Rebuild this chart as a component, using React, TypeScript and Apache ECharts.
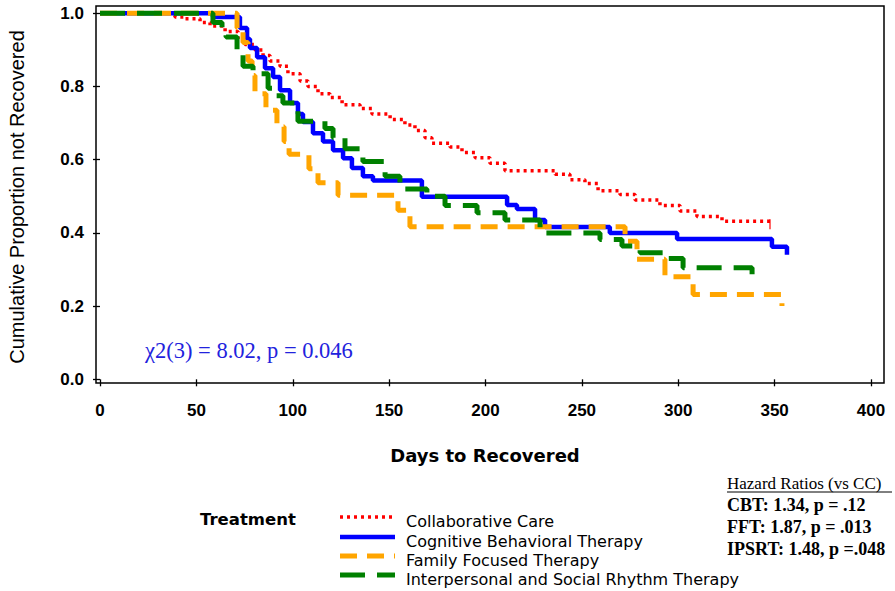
import React, { useEffect, useRef } from "react";
import * as echarts from "echarts";

// Kaplan-Meier step curves: days of each drop and the proportion after it.
const ccDays = [0, 38.9, 44.1, 51.9, 57.1, 64.9, 71.6, 75.2, 80.4, 84.6, 88.2, 93.4, 97.5, 103.8, 107.9, 113.1, 119.3, 125.6, 134.9, 141.1, 150.5, 158.2, 163.4, 168.6, 172.2, 181.6, 187.8, 194.6, 202.3, 210.1, 236.1, 243.8, 251.6, 258.4, 269.8, 277.6, 290.5, 300.9, 309.7, 322.7, 347.6];
const ccSurv = [1.0, 0.99, 0.985, 0.975, 0.965, 0.95, 0.93, 0.915, 0.9, 0.885, 0.87, 0.855, 0.835, 0.815, 0.8, 0.78, 0.77, 0.75, 0.74, 0.725, 0.71, 0.695, 0.68, 0.66, 0.645, 0.635, 0.62, 0.605, 0.59, 0.57, 0.56, 0.545, 0.535, 0.515, 0.505, 0.49, 0.475, 0.46, 0.445, 0.432, 0.432];

const cbtDays = [0, 58.6, 72.6, 76.3, 77.8, 81.5, 85.6, 89.8, 93.4, 98.6, 102.7, 105.3, 110.5, 115.7, 120.9, 126.1, 130.7, 136.4, 141.6, 167.0, 211.2, 216.3, 225.7, 230.9, 264.5, 299.4, 348.6, 356.4];
const cbtSurv = [1.0, 0.99, 0.96, 0.93, 0.905, 0.88, 0.85, 0.826, 0.79, 0.755, 0.725, 0.703, 0.672, 0.65, 0.626, 0.604, 0.577, 0.555, 0.543, 0.499, 0.476, 0.465, 0.435, 0.416, 0.4, 0.383, 0.362, 0.34];

const fftDays = [0, 71.1, 74.2, 76.8, 78.9, 80.4, 86.1, 91.8, 95.5, 98.1, 108.4, 113.1, 123.5, 154.6, 160.8, 272.4, 278.6, 293.1, 307.7, 353.8];
const fftSurv = [1.0, 0.96, 0.92, 0.87, 0.83, 0.78, 0.735, 0.69, 0.65, 0.615, 0.575, 0.537, 0.503, 0.462, 0.417, 0.377, 0.328, 0.28, 0.232, 0.2];

const ipsrtDays = [0, 58.6, 63.3, 65.4, 71.1, 74.2, 79.4, 87.2, 91.3, 94.9, 102.7, 116.7, 120.9, 127.1, 136.4, 147.9, 155.6, 169.6, 179.0, 195.6, 210.1, 228.3, 259.4, 270.8, 280.2, 294.2, 302.5, 338.3];
const ipsrtSurv = [1.0, 0.975, 0.95, 0.935, 0.89, 0.855, 0.835, 0.795, 0.775, 0.755, 0.705, 0.685, 0.66, 0.63, 0.595, 0.555, 0.52, 0.5, 0.475, 0.455, 0.435, 0.4, 0.382, 0.364, 0.346, 0.33, 0.305, 0.285];

// Last censored subject in the Collaborative Care arm.
const ccCensored = [[347.6, 0.432]];

const treatments = [
  "Collaborative Care",
  "Cognitive Behavioral Therapy",
  "Family Focused Therapy",
  "Interpersonal and Social Rhythm Therapy",
];

const xTicks = [0, 50, 100, 150, 200, 250, 300, 350, 400];
const yTicks = [0, 0.2, 0.4, 0.6, 0.8, 1.0];

const hazardLines = ["CBT: 1.34, p = .12", "FFT: 1.87, p = .013", "IPSRT: 1.48, p =.048"];
const chiText = "χ2(3) = 8.02, p = 0.046";

const toPoints = (days: number[], surv: number[]) => days.map((d, i) => [d, surv[i]]);

// Shared stroke settings for each treatment arm (curve and key sample).
const armStyles = [
  { color: "#ff0000", width: 3.5, dash: [3, 4] as number[] | null },
  { color: "#0000ff", width: 4.5, dash: null },
  { color: "#ffa500", width: 5, dash: [17, 10] },
  { color: "#008000", width: 5, dash: [25, 12] },
];

export default function App() {
  const ref = useRef<HTMLDivElement>(null);

  useEffect(() => {
    if (!ref.current) return;
    const chart = echarts.init(ref.current, null, { renderer: "svg" });

    const sans = "Liberation Sans, Arial, sans-serif";
    const wide = "DejaVu Sans, sans-serif";
    const serif = "Liberation Serif, Times New Roman, serif";

    const curve = (i: number, data: number[][]) => {
      const s = armStyles[i];
      return {
        name: treatments[i],
        type: "line",
        step: "end",
        data,
        showSymbol: false,
        symbol: "none",
        clip: false,
        color: s.color,
        lineStyle: { color: s.color, width: s.width, type: s.dash ? s.dash : "solid" },
        emphasis: { disabled: true },
      };
    };

    // Treatment key drawn below the plot.
    const keyX = 340;
    const keyRows = [521, 541, 560, 579];
    const keyItems: any[] = [];
    treatments.forEach((name, i) => {
      const s = armStyles[i];
      keyItems.push({
        type: "line",
        shape: { x1: keyX, y1: keyRows[i] - 4, x2: keyX + 55, y2: keyRows[i] - 4 },
        style: { stroke: s.color, lineWidth: s.width, lineDash: s.dash || undefined },
      });
      keyItems.push({
        type: "text",
        x: 406,
        y: keyRows[i],
        style: {
          text: name,
          fontFamily: wide,
          fontSize: 16,
          fill: "#000",
          align: "left",
          verticalAlign: "middle",
        },
      });
    });

    chart.setOption({
      animation: false,
      backgroundColor: "#ffffff",
      grid: { left: 100, right: 24, top: 13.3, bottom: 211.7, containLabel: false },
      xAxis: {
        type: "value",
        min: xTicks[0],
        max: xTicks[xTicks.length - 1],
        interval: 50,
        offset: 7,
        axisLine: { show: false },
        axisTick: { show: true, length: 7, lineStyle: { color: "#000", width: 1.3 } },
        splitLine: { show: false },
        axisLabel: {
          margin: 16,
          fontFamily: sans,
          fontWeight: "bold",
          fontSize: 17,
          color: "#000",
        },
      },
      yAxis: {
        type: "value",
        min: yTicks[0],
        max: yTicks[yTicks.length - 1],
        interval: 0.2,
        offset: 4,
        axisLine: { show: false },
        axisTick: { show: true, length: 7, lineStyle: { color: "#000", width: 1.3 } },
        splitLine: { show: false },
        axisLabel: {
          margin: 12,
          fontFamily: sans,
          fontWeight: "bold",
          fontSize: 17,
          color: "#000",
          formatter: (v: number) => v.toFixed(1),
        },
      },
      series: [
        curve(0, toPoints(ccDays, ccSurv)),
        curve(1, toPoints(cbtDays, cbtSurv)),
        curve(2, toPoints(fftDays, fftSurv)),
        curve(3, toPoints(ipsrtDays, ipsrtSurv)),
        {
          name: "censored",
          type: "scatter",
          data: ccCensored,
          symbol: "rect",
          symbolSize: [1.5, 10],
          symbolOffset: [0, 3],
          itemStyle: { color: "#ff0000" },
          silent: true,
        },
      ],
      graphic: [
        {
          type: "rect",
          shape: { x: 96, y: 6, width: 788, height: 377 },
          style: { fill: "none", stroke: "#000", lineWidth: 1.5 },
          silent: true,
          z: 10,
        },
        {
          type: "text",
          x: 17,
          y: 197,
          rotation: Math.PI / 2,
          style: {
            text: "Cumulative Proportion not Recovered",
            fontFamily: sans,
            fontSize: 20,
            fill: "#000",
            align: "center",
            verticalAlign: "middle",
          },
        },
        {
          type: "text",
          x: 485,
          y: 455,
          style: {
            text: "Days to Recovered",
            fontFamily: wide,
            fontWeight: "bold",
            fontSize: 18,
            fill: "#000",
            align: "center",
            verticalAlign: "middle",
          },
        },
        {
          type: "text",
          x: 145,
          y: 350,
          style: {
            text: chiText,
            fontFamily: serif,
            fontSize: 22.5,
            fill: "#2222dd",
            align: "left",
            verticalAlign: "middle",
          },
        },
        {
          type: "text",
          x: 200,
          y: 519,
          style: {
            text: "Treatment",
            fontFamily: wide,
            fontWeight: "bold",
            fontSize: 16.5,
            fill: "#000",
            align: "left",
            verticalAlign: "middle",
          },
        },
        ...keyItems,
        {
          type: "text",
          x: 727,
          y: 483,
          style: {
            text: "Hazard Ratios (vs CC)",
            fontFamily: serif,
            fontSize: 17,
            fill: "#000",
            align: "left",
            verticalAlign: "middle",
          },
        },
        {
          type: "line",
          shape: { x1: 727, y1: 492, x2: 892, y2: 492 },
          style: { stroke: "#000", lineWidth: 1 },
        },
        ...hazardLines.map((t, i) => ({
          type: "text",
          x: 727,
          y: 505 + i * 22,
          style: {
            text: t,
            fontFamily: serif,
            fontWeight: "bold",
            fontSize: 18,
            fill: "#000",
            align: "left",
            verticalAlign: "middle",
          },
        })),
      ],
    });

    return () => chart.dispose();
  }, []);

  return (
    <div
      ref={ref}
      style={{ position: "fixed", left: 0, top: 0, width: 895, height: 591, background: "#fff" }}
    />
  );
}
